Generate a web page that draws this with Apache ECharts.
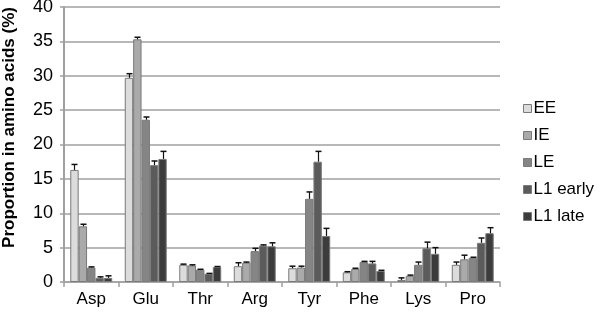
<!DOCTYPE html>
<html>
<head>
<meta charset="utf-8">
<script src="https://cdn.jsdelivr.net/npm/echarts@6/dist/echarts.min.js"></script>
<style>
  html, body { margin: 0; padding: 0; background: #fff; }
  #chart { width: 600px; height: 312px; }
</style>
</head>
<body>
<div id="chart"></div>
<script>
// amino acids on x axis
const categories = ['Asp', 'Glu', 'Thr', 'Arg', 'Tyr', 'Phe', 'Lys', 'Pro']
const seriesNames = ['EE', 'IE', 'LE', 'L1 early', 'L1 late']

// mean values (%)
const eeValues = [16.3, 29.7, 2.5, 2.3, 2.0, 1.4, 0.3, 2.5]
const ieValues = [8.1, 35.3, 2.4, 2.8, 2.1, 1.9, 0.9, 3.3]
const leValues = [2.1, 23.6, 1.8, 4.5, 12.1, 2.9, 2.5, 3.5]
const l1EarlyValues = [0.6, 17.0, 1.2, 5.3, 17.5, 2.7, 4.9, 5.7]
const l1LateValues = [0.6, 17.9, 2.2, 5.2, 6.7, 1.6, 4.1, 7.1]

// error bar (upper) sizes
const eeErrors = [0.8, 0.6, 0.1, 0.5, 0.3, 0.1, 0.3, 0.4]
const ieErrors = [0.3, 0.3, 0.1, 0.1, 0.2, 0.1, 0.1, 0.6]
const leErrors = [0.1, 0.4, 0.05, 0.4, 1.0, 0.1, 0.4, 0.1]
const l1EarlyErrors = [0.15, 0.6, 0.05, 0.1, 1.5, 0.3, 0.9, 0.7]
const l1LateErrors = [0.3, 1.1, 0.05, 0.5, 1.1, 0.1, 0.9, 0.8]

const allValues = [eeValues, ieValues, leValues, l1EarlyValues, l1LateValues]
const allErrors = [eeErrors, ieErrors, leErrors, l1EarlyErrors, l1LateErrors]

const barColors = ['#dcdcdc', '#aaaaaa', '#858585', '#5b5b5b', '#3c3c3c']
const CAT_GAP = 0.23 // barCategoryGap

const chart = echarts.init(document.getElementById('chart'))

const seriesData = []
for (let i = 0; i < seriesNames.length; i++) {
  seriesData.push({
    name: seriesNames[i],
    type: 'bar',
    barGap: '0%',
    barCategoryGap: CAT_GAP * 100 + '%',
    itemStyle: {
      color: barColors[i],
      borderColor: '#7a7a7a',
      borderWidth: 1
    },
    data: allValues[i]
  })
}

// error bars: [category index, series index, value, value + error]
const errData = []
for (let i = 0; i < seriesNames.length; i++) {
  for (let j = 0; j < categories.length; j++) {
    errData.push([j, i, allValues[i][j], allValues[i][j] + allErrors[i][j]])
  }
}

seriesData.push({
  type: 'custom',
  name: 'err',
  z: 5,
  renderItem: function(params, api) {
    const cat = api.value(0)
    const si = api.value(1)
    const base = api.coord([cat, api.value(2)])
    const top = api.coord([cat, api.value(3)])
    const band = api.size([1, 0])[0]
    const group = band * (1 - CAT_GAP)
    const barW = group / seriesNames.length
    const x = Math.round(base[0] - group / 2 + barW * (si + 0.5)) + 0.5
    const cap = 3
    return {
      type: 'group',
      children: [
        {
          type: 'line',
          shape: { x1: x, y1: base[1], x2: x, y2: top[1] },
          style: { stroke: '#111', lineWidth: 1.2 }
        },
        {
          type: 'line',
          shape: { x1: x - cap, y1: top[1], x2: x + cap, y2: top[1] },
          style: { stroke: '#111', lineWidth: 1.5 }
        }
      ]
    }
  },
  encode: { x: 0, y: 3 },
  data: errData,
  silent: true
})

const option = {
  animation: false,
  grid: {
    left: 64,
    right: 100,
    top: 7,
    bottom: 30,
    containLabel: false,
    outerBoundsMode: 'none'
  },
  legend: {
    orient: 'vertical',
    left: 518,
    top: 95,
    data: seriesNames,
    icon: 'rect',
    itemWidth: 8,
    itemHeight: 8,
    itemGap: 10,
    itemStyle: { borderColor: '#7a7a7a', borderWidth: 1 },
    textStyle: {
      fontFamily: 'Liberation Sans, Arial, sans-serif',
      fontSize: 17,
      color: '#000',
      lineHeight: 16,
      padding: [0, 0, 0, -3]
    }
  },
  xAxis: {
    type: 'category',
    data: categories,
    axisLine: {
      lineStyle: { color: '#a0a0a0', width: 1.5 }
    },
    axisTick: {
      show: true,
      length: 5,
      lineStyle: { color: '#a0a0a0', width: 1.5 }
    },
    axisLabel: {
      margin: 9,
      fontFamily: 'Liberation Sans, Arial, sans-serif',
      fontSize: 17,
      color: '#000'
    }
  },
  yAxis: {
    type: 'value',
    min: 0,
    max: 40,
    interval: 5,
    name: 'Proportion in amino acids (%)',
    nameLocation: 'middle',
    nameGap: 46,
    nameTextStyle: {
      fontFamily: 'Liberation Sans, Arial, sans-serif',
      fontSize: 17,
      fontWeight: 'bold',
      color: '#000',
      padding: [0, 0, 0, 34]
    },
    axisLine: {
      show: true,
      lineStyle: { color: '#a0a0a0', width: 2 }
    },
    axisTick: {
      show: true,
      length: 4,
      lineStyle: { color: '#a0a0a0', width: 1.5 }
    },
    splitLine: {
      show: true,
      lineStyle: { color: '#a0a0a0', width: 1.5 }
    },
    axisLabel: {
      margin: 11,
      fontFamily: 'Liberation Sans, Arial, sans-serif',
      fontSize: 18,
      color: '#000'
    }
  },
  series: seriesData
}

chart.setOption(option)
window.onresize = () => {
  chart.resize()
}
</script>
</body>
</html>
